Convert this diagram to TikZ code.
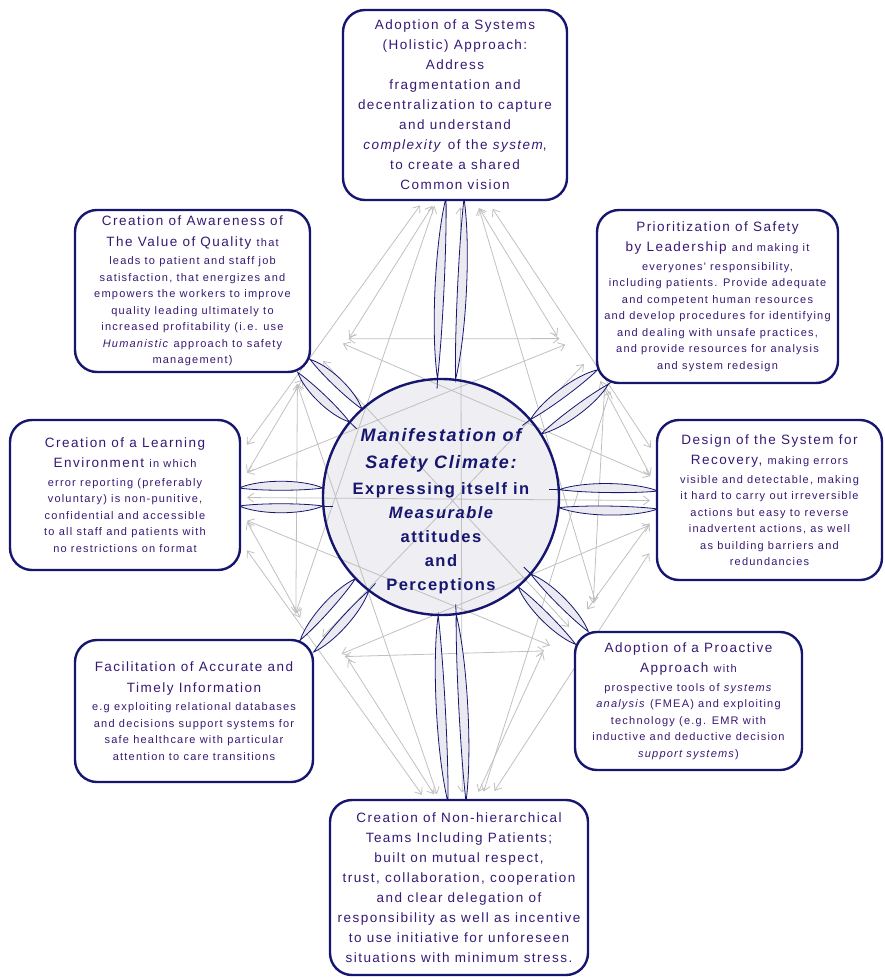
\documentclass[tikz,border=0pt]{standalone}
\usepackage{fontspec}
\setmainfont{Liberation Sans}
\newfontfamily\cardfam[LetterSpace=11]{Liberation Sans}
\newfontfamily\corefam[LetterSpace=9]{Liberation Sans}
\usetikzlibrary{calc,arrows.meta}

\definecolor{rimblue}{RGB}{22,22,112}
\definecolor{inkpurple}{RGB}{55,25,115}
\definecolor{corefill}{RGB}{238,238,243}
\definecolor{webgray}{RGB}{192,192,192}
\definecolor{leaffill}{RGB}{234,234,240}

\newcommand\headtxt{\cardfam\fontsize{13.5}{20}\selectfont}
\newcommand\bodytxt{\cardfam\fontsize{11}{16.5}\selectfont}

\tikzset{
  card/.style={draw=rimblue, line width=2.4pt, rounded corners=22pt, fill=white,
    text=inkpurple, align=center, inner sep=0pt},
  web/.style={draw=webgray, line width=0.8pt, <->, >={Straight Barb[length=6pt,width=9pt]}},
  leaf/.style={draw=rimblue, line width=0.8pt, fill=leaffill},
  leafedge/.style={draw=rimblue, line width=0.8pt}
}

% two curved arrows between a card (#1) and the hub (#2)
\newcommand\leafpair[2]{%
  \coordinate (la) at ($(#1)!9pt!90:(#2)$);
  \coordinate (lb) at ($(#2)!9pt!-90:(#1)$);
  \coordinate (ra) at ($(#1)!9pt!-90:(#2)$);
  \coordinate (rb) at ($(#2)!9pt!90:(#1)$);
  \draw[leaf] (la) .. controls ($(la)!.25!(lb)!9pt!90:(lb)$) and ($(lb)!.25!(la)!9pt!-90:(la)$) .. (lb)
    .. controls ($(lb)!.25!(la)!3pt!90:(la)$) and ($(la)!.25!(lb)!3pt!-90:(lb)$) .. (la) -- cycle;
  \draw[leaf] (ra) .. controls ($(ra)!.25!(rb)!9pt!-90:(rb)$) and ($(rb)!.25!(ra)!9pt!90:(ra)$) .. (rb)
    .. controls ($(rb)!.25!(ra)!3pt!-90:(ra)$) and ($(ra)!.25!(rb)!3pt!90:(rb)$) .. (ra) -- cycle;
  \draw[leafedge] (la) -- ($(la)!-10pt!(lb)$);
  \draw[leafedge] (rb) -- ($(rb)!-10pt!(ra)$);
}

\begin{document}
\begin{tikzpicture}[x=1pt,y=-1pt]
    \useasboundingbox (0,0) rectangle (884,979);

    % hub
    \node[circle, fill=corefill, minimum size=236, inner sep=0pt] (core) at (441,497) {};

    % ends of the grey web, one per card
    \coordinate (w1) at (455,207);
    \coordinate (w2) at (582,362);
    \coordinate (w3) at (650,500);
    \coordinate (w4) at (568,628);
    \coordinate (w5) at (457,793);
    \coordinate (w6) at (320,635);
    \coordinate (w7) at (247,497);
    \coordinate (w8) at (322,362);
    \foreach \i in {1,...,8}
        \coordinate (t\i) at ($(w\i)!20pt!90:(core.center)$);

    \foreach \i in {1,...,8}{
        \foreach \j in {1,...,8}{
            \ifnum\i<\j
                \coordinate (f1) at ($(w\i)!(w\j)!(t\i)$);
                \coordinate (f2) at ($(w\j)!(w\i)!(t\j)$);
                \coordinate (e1) at ($(w\i)!0.18!(f1)$);
                \coordinate (e2) at ($(w\j)!0.18!(f2)$);
                \draw[web] (e1) -- (e2);
            \fi
        }
    }

    \node[circle, draw=rimblue, line width=2.4pt, minimum size=236, inner sep=0pt] (rim) at (core) {};

    % curved arrows card <-> hub
    \coordinate (s1) at (455,198);
    \coordinate (s2) at (603,377);
    \coordinate (s3) at (658,500);
    \coordinate (s4) at (582,638);
    \coordinate (s5) at (457,802);
    \coordinate (s6) at (307,646);
    \coordinate (s7) at (239,497);
    \coordinate (s8) at (304,366);
    \foreach \i in {1,...,8}{
        \coordinate (c\i) at ($(core.center)!118pt!(s\i)$);
        \leafpair{s\i}{c\i}
    }

    % cards
    \node[card, minimum width=224, minimum height=190, font=\headtxt] (sys) at (455,105)
        {Adoption of a Systems\\ (Holistic) Approach:\\ Address\\ fragmentation and\\
         decentralization to capture\\ and understand\\ \textit{complexity} of the \textit{system},\\
         to create a shared\\ Common vision};
    \node[card, minimum width=241, minimum height=173, font=\bodytxt] (lead) at (717.5,296.5)
        {\headtxt Prioritization of Safety\\[4pt] \headtxt by Leadership {\bodytxt and making it}\\[2pt]
         everyones' responsibility,\\ including patients. Provide adequate\\
         and competent human resources\\ and develop procedures for identifying\\
         and dealing with unsafe practices,\\ and provide resources for analysis\\
         and system redesign};
    \node[card, minimum width=225, minimum height=160, font=\bodytxt] (recover) at (769.5,500)
        {\headtxt Design of the System for\\[4pt] \headtxt Recovery, {\bodytxt making errors}\\[2pt]
         visible and detectable, making\\ it hard to carry out irreversible\\
         actions but easy to reverse\\ inadvertent actions, as well\\
         as building barriers and\\ redundancies};
    \node[card, minimum width=227, minimum height=138, font=\bodytxt] (proact) at (688.5,701)
        {\headtxt Adoption of a Proactive\\[4pt] \headtxt Approach {\bodytxt with}\\[2pt]
         prospective tools of \textit{systems}\\ \textit{analysis} (FMEA) and exploiting\\
         technology (e.g. EMR with\\ inductive and deductive decision\\ \textit{support systems})};
    \node[card, minimum width=258, minimum height=175, font=\headtxt] (teams) at (459,887.5)
        {Creation of Non-hierarchical\\ Teams Including Patients;\\ built on mutual respect,\\
         trust, collaboration, cooperation\\ and clear delegation of\\
         responsibility as well as incentive\\ to use initiative for unforeseen\\
         situations with minimum stress.};
    \node[card, minimum width=238, minimum height=142, font=\bodytxt] (info) at (194,711)
        {\headtxt Facilitation of Accurate and\\[4pt] \headtxt Timely Information\\[2pt]
         e.g exploiting relational databases\\ and decisions support systems for\\
         safe healthcare with particular\\ attention to care transitions};
    \node[card, minimum width=230, minimum height=150, font=\bodytxt] (learn) at (125,495)
        {\headtxt Creation of a Learning\\[4pt] \headtxt Environment {\bodytxt in which}\\[2pt]
         error reporting (preferably\\ voluntary) is non-punitive,\\
         confidential and accessible\\ to all staff and patients with\\ no restrictions on format};
    \node[card, minimum width=235, minimum height=162, font=\bodytxt] (aware) at (192.5,291)
        {\headtxt Creation of Awareness of\\[4pt] \headtxt The Value of Quality {\bodytxt that}\\[2pt]
         leads to patient and staff job\\ satisfaction, that energizes and\\
         empowers the workers to improve\\ quality leading ultimately to\\
         increased profitability (i.e. use\\ \textit{Humanistic} approach to safety\\ management)};

    % hub text
    \node[align=center, text=rimblue, font=\corefam\bfseries\fontsize{16.5}{24}\selectfont,
          inner sep=0pt] (slogan) at (441,511)
        {\fontsize{18}{27}\selectfont\itshape Manifestation of\\[3pt]
         \fontsize{18}{27}\selectfont\itshape Safety Climate:\\[2pt]
         Expressing itself in\\ \itshape Measurable\\ attitudes\\ and\\ Perceptions};
\end{tikzpicture}
\end{document}
